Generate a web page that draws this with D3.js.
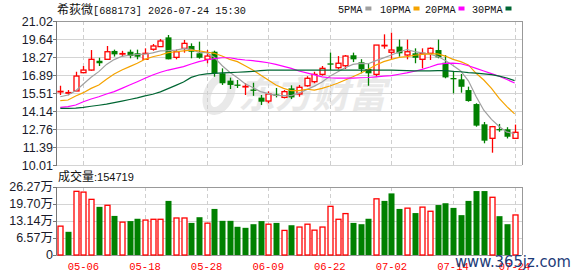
<!DOCTYPE html>
<html><head><meta charset="utf-8">
<script src="https://cdn.jsdelivr.net/npm/d3@7/dist/d3.min.js"></script>
<style>body{margin:0;background:#fff}svg{display:block}</style>
</head><body><svg id="c" width="578" height="276"></svg>
<script>
const dates=["04-28","04-29","04-30","05-06","05-07","05-08","05-11","05-12","05-13","05-14","05-15","05-18","05-19","05-20","05-21","05-22","05-25","05-26","05-27","05-28","05-29","06-01","06-02","06-03","06-04","06-05","06-08","06-09","06-10","06-11","06-12","06-15","06-16","06-17","06-18","06-22","06-23","06-24","06-25","06-26","06-29","06-30","07-01","07-02","07-03","07-06","07-07","07-08","07-09","07-10","07-13","07-14","07-15","07-16","07-17","07-20","07-21","07-22","07-23","07-24"];
const open=[15.60,15.50,15.67,17.07,17.27,17.98,18.09,18.73,18.50,18.67,18.55,18.09,18.86,19.06,19.77,18.24,18.93,19.11,18.55,18.09,18.67,17.02,16.46,16.16,15.98,15.78,15.16,14.90,15.40,15.18,15.87,15.44,16.07,16.38,16.94,17.78,17.45,17.60,18.40,17.86,17.35,16.94,19.12,18.63,19.06,18.42,18.55,18.09,18.55,18.80,17.83,16.66,16.56,15.74,14.67,13.12,12.05,12.76,12.74,12.05];
const high=[16.07,15.74,17.14,17.58,18.80,18.21,19.11,18.83,18.74,18.83,18.83,18.93,19.26,19.64,19.95,18.83,19.57,19.31,19.44,18.80,18.75,17.40,16.69,16.51,16.26,16.30,15.36,15.64,15.90,15.74,16.10,16.13,16.80,17.14,17.58,18.60,18.34,18.42,18.60,18.10,17.79,19.18,20.00,20.13,19.60,19.60,18.93,18.93,19.00,19.60,18.42,17.14,16.97,16.00,14.73,13.30,13.00,13.15,12.90,13.10];
const low=[15.36,15.34,15.67,17.07,17.22,17.58,18.09,18.30,18.30,18.17,18.09,18.04,18.75,19.06,18.09,18.09,18.60,18.17,18.14,17.79,16.76,16.13,15.82,15.90,15.36,15.30,14.60,14.73,15.18,15.10,15.05,15.23,16.00,16.26,16.84,17.27,17.33,17.35,17.88,17.02,16.07,16.76,18.90,18.09,18.29,18.09,17.79,17.40,18.04,18.17,16.64,15.49,15.54,14.85,12.94,11.67,10.95,12.55,12.04,12.05];
const close=[15.64,15.55,16.81,17.27,18.09,17.79,18.67,18.47,18.53,18.34,18.29,18.55,19.11,19.49,18.09,18.67,19.31,18.67,18.21,18.34,17.02,16.26,16.13,16.10,16.02,15.72,14.85,15.44,15.33,15.62,15.18,15.95,16.64,16.94,17.40,17.72,17.79,18.34,18.09,17.35,17.02,19.18,19.16,18.80,18.55,18.67,18.21,18.55,18.93,18.24,16.71,16.62,15.99,14.90,13.02,11.87,12.94,12.72,12.17,12.51];
const volume=[111500,89600,246000,243000,215000,186000,192000,151000,127000,131000,140000,135000,138000,138000,209000,143000,143000,124000,146000,123000,178000,132000,132000,109000,105000,119000,131000,119000,124000,95000,115000,108000,119000,96000,108000,188000,138000,160000,124000,119000,140000,217000,209000,238000,178000,181000,162000,185000,169000,193000,200000,182000,154000,209000,247000,247000,223000,150000,119000,154719];
const ma5=[15.23,15.36,15.69,16.20,16.72,17.15,17.70,18.07,18.32,18.40,18.46,18.48,18.58,18.74,18.75,18.79,18.90,18.85,18.62,18.60,18.25,17.62,17.10,16.68,16.22,15.93,15.62,15.47,15.33,15.32,15.31,15.52,15.77,16.04,16.35,16.80,17.12,17.45,17.70,17.78,17.75,17.99,18.20,18.42,18.65,18.84,18.68,18.58,18.48,18.32,18.00,17.62,17.20,16.45,15.25,14.20,13.50,12.95,12.52,12.42];
const ma10=[14.93,14.98,15.29,15.54,15.87,16.13,16.56,16.97,17.27,17.53,17.79,18.09,18.29,18.42,18.60,18.67,18.73,18.80,18.73,18.65,18.55,18.34,18.09,17.91,17.60,17.27,16.89,16.51,16.13,15.87,15.69,15.69,15.80,15.74,15.87,16.05,16.26,16.51,16.76,17.02,17.33,17.66,17.91,18.09,18.24,18.29,18.40,18.47,18.50,18.50,18.34,18.09,17.91,17.66,17.02,16.51,15.87,15.11,14.47,13.92];
const ma20=[14.42,14.47,14.60,14.85,15.06,15.23,15.44,15.62,15.87,16.13,16.38,16.64,16.89,17.10,17.27,17.40,17.53,17.73,17.91,18.04,18.14,18.21,18.21,18.11,18.04,17.99,17.91,17.83,17.70,17.55,17.40,17.20,17.05,16.90,16.75,16.68,16.65,16.65,16.65,16.68,16.70,16.75,16.80,16.85,16.95,17.05,17.18,17.32,17.50,17.70,17.78,17.80,17.75,17.60,17.40,17.20,17.00,16.80,16.55,16.28];
const ma30=[14.34,14.34,14.36,14.42,14.50,14.58,14.66,14.78,14.90,15.02,15.14,15.30,15.42,15.60,15.85,16.10,16.35,16.71,16.89,16.97,17.02,17.05,17.07,17.10,17.13,17.17,17.22,17.27,17.27,17.27,17.27,17.27,17.27,17.27,17.27,17.27,17.27,17.27,17.27,17.27,17.27,17.27,17.27,17.27,17.25,17.22,17.20,17.20,17.20,17.23,17.22,17.17,17.14,17.07,17.03,16.97,16.92,16.81,16.66,16.46];
const priceTicks=[10.01,11.39,12.76,14.14,15.51,16.89,18.27,19.64,21.02];
const volTickValues=[0,65700,131400,197000,262700];
const volTickLabels=["0","6.57万","13.14万","19.70万","26.27万"];
const tickDates=["05-06","05-18","05-28","06-09","06-22","07-02","07-14","07-24"];
const maNames=["5PMA","10PMA","20PMA","30PMA"];
const maColors=["#a0a0a0","#f5a300","#ff00ff","#006633"];

const svg=d3.select("#c");
const L=56,R=522,PT=21,PB=165,VT=187,VB=255;
const x=d3.scalePoint().domain(dates).range([60.3,514.6]);
const y=d3.scaleLinear().domain([10.01,21.02]).range([PB,PT]);
const yv=d3.scaleLinear().domain([0,262700]).range([VB,VT]);
const bw=5;
const RED="#ff0000",GRN="#008000";
const num="'Liberation Sans','Noto Sans CJK SC',sans-serif";
const mono="'Liberation Mono','Noto Sans CJK SC',monospace";
const cjk="'Noto Sans CJK SC',sans-serif";

// watermark
const wm=svg.append("g");
wm.append("ellipse").attr("cx",219).attr("cy",94).attr("rx",11).attr("ry",18)
  .attr("transform","rotate(25,219,94)").attr("fill","none").attr("stroke","#e9e9e9").attr("stroke-width",8);
wm.append("text").attr("x",238).attr("y",108).attr("font-family",cjk).attr("font-weight","bold")
  .attr("font-size",37).attr("fill","#e9e9e9").attr("font-style","italic").text("东方财富");

// grids
const g=svg.append("g");
g.selectAll("line.hp").data(priceTicks).join("line")
  .attr("x1",L).attr("x2",R).attr("y1",d=>Math.round(y(d))+0.5).attr("y2",d=>Math.round(y(d))+0.5)
  .attr("stroke","#d4d4d4");
g.selectAll("line.hv").data(volTickValues).join("line")
  .attr("x1",L).attr("x2",R).attr("y1",d=>Math.round(yv(d))+0.5).attr("y2",d=>Math.round(yv(d))+0.5)
  .attr("stroke","#d4d4d4");
tickDates.forEach(dt=>{
  const xx=Math.round(x(dt))+0.5;
  [[PT,PB],[VT,VB]].forEach(([a,b])=>g.append("line").attr("x1",xx).attr("x2",xx).attr("y1",a).attr("y2",b)
    .attr("stroke","#cfcfcf").attr("stroke-dasharray","4,3"));
});
// borders
[[PT,PB],[VT,VB]].forEach(([a,b])=>{
  g.append("line").attr("x1",L).attr("x2",R).attr("y1",a+0.5).attr("y2",a+0.5).attr("stroke","#999");
  g.append("line").attr("x1",R+0.5).attr("x2",R+0.5).attr("y1",a).attr("y2",b).attr("stroke","#999");
  g.append("line").attr("x1",L+0.5).attr("x2",L+0.5).attr("y1",a).attr("y2",b+1).attr("stroke","#777");
});
g.append("line").attr("x1",L).attr("x2",R).attr("y1",VB+0.5).attr("y2",VB+0.5).attr("stroke","#999");

// y axes
const pa=svg.append("g");
priceTicks.forEach(v=>{
  const yy=Math.round(y(v))+0.5;
  pa.append("line").attr("x1",L-3).attr("x2",L).attr("y1",yy).attr("y2",yy).attr("stroke","#777");
  pa.append("text").attr("x",L-3).attr("y",yy).attr("dy","0.36em").attr("text-anchor","end")
    .attr("font-family",num).attr("font-size",12.5).attr("fill","#1a1a2a").text(d3.format(".2f")(v));
});
volTickValues.forEach((v,i)=>{
  const yy=Math.round(yv(v))+0.5;
  pa.append("line").attr("x1",L-3).attr("x2",L).attr("y1",yy).attr("y2",yy).attr("stroke","#777");
  pa.append("text").attr("x",L-3).attr("y",yy-1).attr("dy","0.36em").attr("text-anchor","end")
    .attr("font-family",num).attr("font-size",12.5).attr("fill","#1a1a2a").text(volTickLabels[i]);
});

// candles
const cg=svg.append("g");
dates.forEach((d,i)=>{
  const up=close[i]>=open[i];
  const col=up?RED:GRN;
  const cx=Math.round(x(d))+0.5;
  const top=y(Math.max(open[i],close[i])), bot=y(Math.min(open[i],close[i]));
  cg.append("line").attr("x1",cx).attr("x2",cx).attr("y1",y(high[i])).attr("y2",y(low[i])).attr("stroke",col).attr("stroke-width",1.3);
  if(up){
    cg.append("rect").attr("x",cx-2.5).attr("y",top).attr("width",bw).attr("height",Math.max(0.5,bot-top))
      .attr("fill","#fff").attr("stroke",col).attr("stroke-width",1.3);
  } else {
    cg.append("rect").attr("x",cx-3).attr("y",top).attr("width",bw+1).attr("height",Math.max(1.3,bot-top))
      .attr("fill",col);
  }
});

// MA lines
[ma5,ma10,ma20,ma30].forEach((arr,k)=>{
  svg.append("path").datum(arr)
    .attr("d",d3.line().x((v,i)=>x(dates[i])).y(v=>y(v)))
    .attr("fill","none").attr("stroke",maColors[k]).attr("stroke-width",1.2);
});

// volume bars
const vg=svg.append("g");
dates.forEach((d,i)=>{
  const upv=i===0?true:close[i]>=close[i-1];
  const cx=Math.round(x(d))+0.5;
  if(upv){
    vg.append("rect").attr("x",cx-2.5).attr("y",yv(volume[i])).attr("width",bw).attr("height",VB-yv(volume[i]))
      .attr("fill","#fff").attr("stroke",RED).attr("stroke-width",1.3);
  } else {
    vg.append("rect").attr("x",cx-3).attr("y",yv(volume[i])).attr("width",bw+1).attr("height",VB-yv(volume[i]))
      .attr("fill",GRN);
  }
});

// x labels
tickDates.forEach(dt=>{
  svg.append("text").attr("x",x(dt)).attr("y",270).attr("text-anchor","middle")
    .attr("font-family",mono).attr("font-size",10.5).attr("fill",RED).text(dt);
});

// title
const t=svg.append("text").attr("x",57).attr("y",14).attr("fill","#111");
t.append("tspan").attr("font-family",cjk).attr("font-size",12).text("希荻微");
t.append("tspan").attr("font-family",mono).attr("font-size",10.2).text("[688173] 2026-07-24 15:30");

// legend
const lx=[338,380,425,472];
maNames.forEach((n,k)=>{
  const tx=svg.append("text").attr("x",lx[k]).attr("y",13).attr("font-family",mono).attr("font-size",10.2).attr("fill","#111").text(n);
  const w=n.length*6.1;
  svg.append("rect").attr("x",lx[k]+w+3).attr("y",6.5).attr("width",6).attr("height",4).attr("fill",maColors[k]);
});

// volume caption
const vc=svg.append("text").attr("x",58).attr("y",181).attr("fill","#111");
vc.append("tspan").attr("font-family",cjk).attr("font-size",12).text("成交量");
vc.append("tspan").attr("font-family",num).attr("font-size",11).text(":"+volume[volume.length-1]);

// site watermark
svg.append("text").attr("x",455).attr("y",267).attr("font-family","'DejaVu Sans',sans-serif")
  .attr("font-size",16).attr("fill","#1d3b78").attr("textLength",116).attr("lengthAdjust","spacingAndGlyphs")
  .text("www.365jz.com");
</script></body></html>
